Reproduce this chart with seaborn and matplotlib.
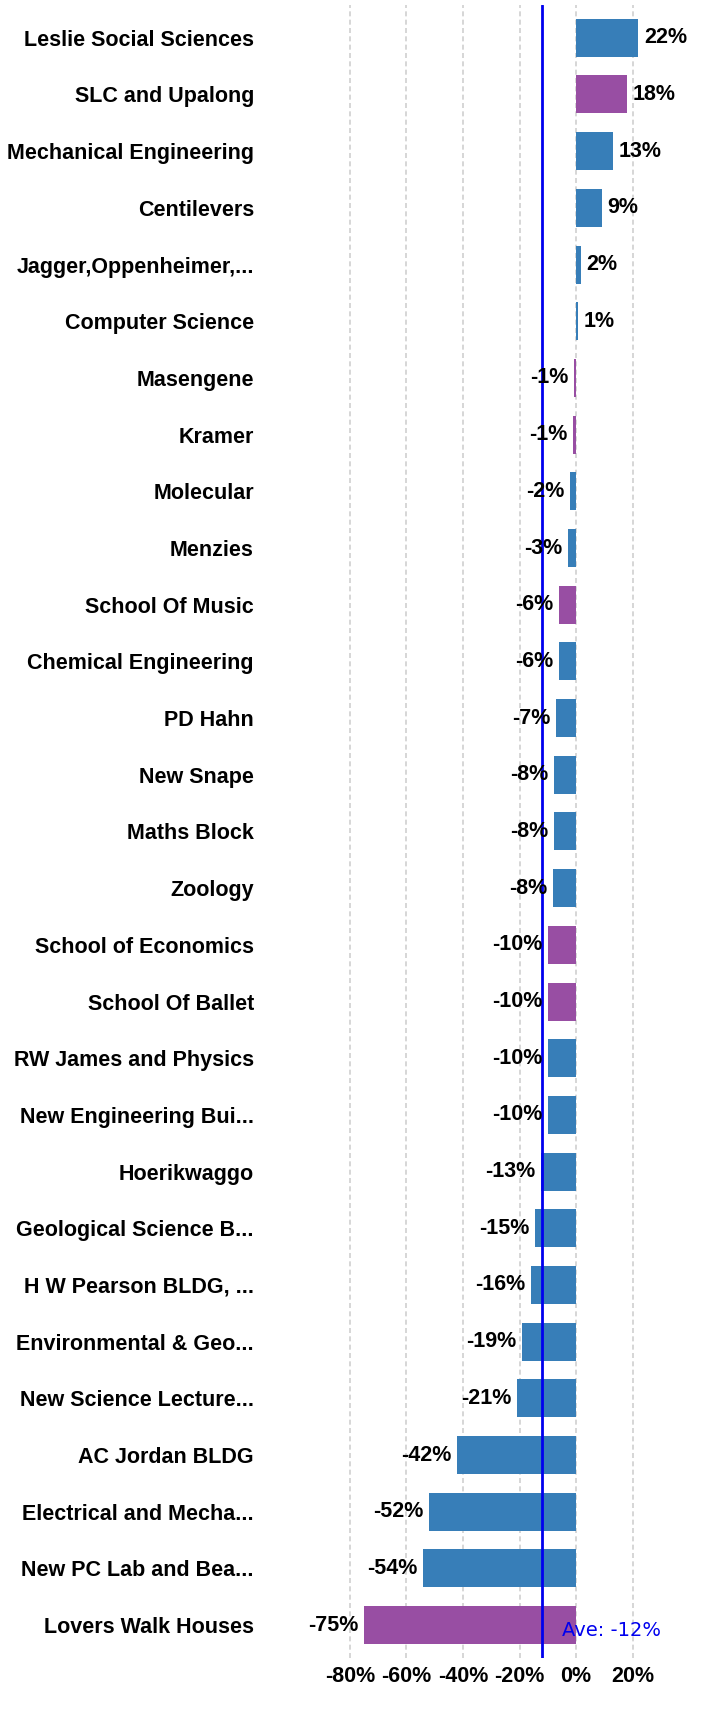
import matplotlib
matplotlib.use("Agg")
import matplotlib.pyplot as plt
import seaborn as sns
import pandas as pd

categories = [
    "Leslie Social Sciences", "SLC and Upalong", "Mechanical Engineering", "Centilevers",
    "Jagger,Oppenheimer,...", "Computer Science", "Masengene", "Kramer", "Molecular",
    "Menzies", "School Of Music", "Chemical Engineering", "PD Hahn", "New Snape",
    "Maths Block", "Zoology", "School of Economics", "School Of Ballet",
    "RW James and Physics", "New Engineering Bui...", "Hoerikwaggo",
    "Geological Science B...", "H W Pearson BLDG, ...", "Environmental & Geo...",
    "New Science Lecture...", "AC Jordan BLDG", "Electrical and Mecha...",
    "New PC Lab and Bea...", "Lovers Walk Houses",
]
values = [22, 18, 13, 9, 1.6, 0.8, -0.8, -1.2, -2, -3, -6, -6, -7, -8, -8, -8.2,
          -10, -10, -10, -10, -12.6, -14.6, -16, -19, -21, -42, -52, -54, -75]
groups = ["A", "B", "A", "A", "A", "A", "B", "B", "A", "A", "B", "A", "A", "A",
          "A", "A", "B", "B", "A", "A", "A", "A", "A", "A", "A", "A", "A", "A", "B"]
average = -12
x_ticks = [-80, -60, -40, -20, 0, 20]

palette = {"A": "#377EB8", "B": "#984EA3"}

df = pd.DataFrame({"building": categories, "value": values, "group": groups})

sns.set_theme(style="white")
plt.rcParams["font.family"] = ["Liberation Sans", "DejaVu Sans"]

fig = plt.figure(figsize=(7.02, 17.13), dpi=100)
ax = fig.add_axes([0.3775, 0.0321, 0.5641, 0.9647])

sns.barplot(data=df, x="value", y="building", hue="group", palette=palette,
            dodge=False, width=0.67, legend=False, orient="h", ax=ax,
            edgecolor="none", saturation=1)

for c in ax.containers:
    ax.bar_label(c, fmt="{:.0f}%", padding=4, fontweight="bold", fontsize=15.5,
                 color="black")

ax.set_xlim(-110, 30)
ax.set_ylim(len(categories) - 1 + 0.58, -0.57)
ax.set_xticks(x_ticks)
ax.set_xticklabels([f"{t}%" for t in x_ticks], fontweight="bold", fontsize=15.5)
ax.tick_params(axis="y", labelsize=15.5, length=0, pad=8, labelcolor="black")
ax.tick_params(axis="x", length=0, pad=6, labelcolor="black")
for lab in ax.get_yticklabels():
    lab.set_fontweight("bold")
ax.set_xlabel("")
ax.set_ylabel("")
ax.grid(axis="x", color="#d0d0d0", linestyle=(0, (3, 2)), linewidth=1.2)
ax.grid(axis="y", visible=False)
ax.set_axisbelow(True)
for s in ax.spines.values():
    s.set_visible(False)

ax.axvline(average, color="#0000ee", linewidth=2)
ax.annotate(f"Ave: {average}%", xy=(average, len(categories) - 1 + 0.1),
            xytext=(14, 0), textcoords="offset points", va="center", ha="left",
            color="#0000ee", fontsize=14, family="DejaVu Sans")

fig.savefig("out.png", dpi=100)
